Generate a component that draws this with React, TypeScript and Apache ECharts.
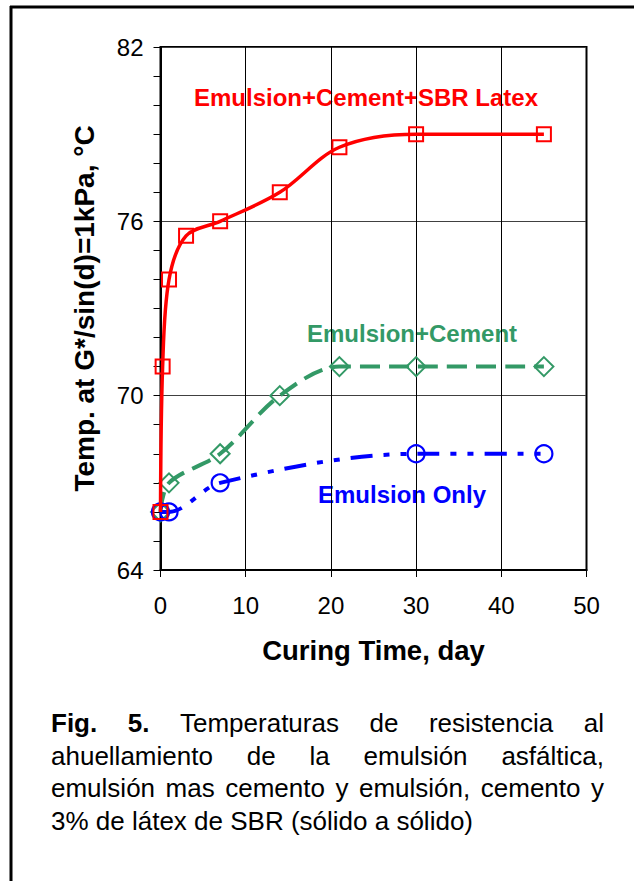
import React, { useEffect, useRef } from "react";
import * as echarts from "echarts";

// ---- data ----
const sbrDays = [0, 0.25, 1, 3, 7, 14, 21, 30, 45];
const sbrTemp = [66.0, 71.0, 74.0, 75.5, 76.0, 77.0, 78.55, 79.0, 79.0];
const cementDays = [0, 1, 7, 14, 21, 30, 45];
const cementTemp = [66.0, 67.0, 68.0, 70.0, 71.0, 71.0, 71.0];
const emulsionDays = [0, 1, 7, 30, 45];
const emulsionTemp = [66.0, 66.0, 67.0, 68.0, 68.0];

const seriesNames = ["Emulsion+Cement+SBR Latex", "Emulsion+Cement", "Emulsion Only"];
const yAxisTitle = "Temp. at G*/sin(d)=1kPa, °C";
const xAxisTitle = "Curing Time, day";

const captionLines = [
  [["Fig.", true], ["5.", true], ["Temperaturas", false], ["de", false], ["resistencia", false], ["al", false]],
  [["ahuellamiento", false], ["de", false], ["la", false], ["emulsión", false], ["asfáltica,", false]],
  [["emulsión", false], ["mas", false], ["cemento", false], ["y", false], ["emulsión,", false], ["cemento", false], ["y", false]],
];
const captionLast = "3% de látex de SBR (sólido a sólido)";

const RED = "#FF0000";
const GREEN = "#339966";
const BLUE = "#0000FF";
const FONT = '"Liberation Sans", Arial, sans-serif';

function pairs(xs: number[], ys: number[]) {
  return xs.map((x, i) => [x, ys[i]]);
}

export default function App() {
  const ref = useRef<HTMLDivElement>(null);
  useEffect(() => {
    if (!ref.current) return;
    const chart = echarts.init(ref.current, null, { renderer: "svg" });

    const capSize = 26;
    const capLeft = 51;
    const capRight = 604;
    const baselines = [732, 765, 797, 830];
    const ctx = document.createElement("canvas").getContext("2d")!;
    const measure = (t: string, bold: boolean) => {
      ctx.font = `${bold ? "bold " : ""}${capSize}px ${FONT}`;
      return ctx.measureText(t).width;
    };
    const captionGraphics: any[] = [];
    captionLines.forEach((words, li) => {
      const widths = words.map(([w, b]) => measure(w as string, b as boolean));
      const total = widths.reduce((a, b) => a + b, 0);
      const gap = (capRight - capLeft - total) / (words.length - 1);
      let x = capLeft;
      words.forEach(([w, b], i) => {
        captionGraphics.push({
          type: "text",
          x,
          y: baselines[li] - capSize * 0.35,
          style: {
            text: w,
            font: `${b ? "bold " : ""}${capSize}px ${FONT}`,
            fill: "#000",
            verticalAlign: "middle",
            align: "left",
          },
        });
        x += widths[i] + gap;
      });
    });
    captionGraphics.push({
      type: "text",
      x: capLeft,
      y: baselines[3] - capSize * 0.35,
      style: {
        text: captionLast,
        font: `${capSize}px ${FONT}`,
        fill: "#000",
        verticalAlign: "middle",
        align: "left",
      },
    });

    const option: any = {
      animation: false,
      backgroundColor: "#fff",
      grid: {
        left: 160.5,
        right: 47.5,
        top: 47,
        bottom: 311,
        show: true,
        borderColor: "#000",
        borderWidth: 2,
        backgroundColor: "transparent",
      },
      xAxis: {
        type: "value",
        min: 0,
        max: 50,
        interval: 10,
        name: xAxisTitle,
        nameLocation: "middle",
        nameGap: 66,
        nameTextStyle: { fontFamily: FONT, fontWeight: "bold", fontSize: 27.5, color: "#000" },
        axisLine: { show: true, lineStyle: { color: "#000", width: 2 } },
        axisTick: { show: true, inside: false, length: 7, lineStyle: { color: "#000", width: 1 } },
        axisLabel: { fontFamily: FONT, fontSize: 24, color: "#000", margin: 23 },
        splitLine: { show: true, lineStyle: { color: "#000", width: 1 } },
      },
      yAxis: {
        type: "value",
        min: 64,
        max: 82,
        interval: 6,
        name: yAxisTitle,
        nameLocation: "middle",
        nameRotate: 90,
        nameGap: 62,
        nameTextStyle: { fontFamily: FONT, fontWeight: "bold", fontSize: 28, color: "#000" },
        axisLine: { show: true, lineStyle: { color: "#000", width: 2 } },
        axisTick: { show: true, inside: false, length: 7, lineStyle: { color: "#000", width: 1 } },
        minorTick: { show: true, splitNumber: 6, length: 7, lineStyle: { color: "#000", width: 1 } },
        axisLabel: { fontFamily: FONT, fontSize: 24, color: "#000", margin: 17 },
        splitLine: { show: true, lineStyle: { color: "#404040", width: 1 } },
      },
      series: [
        {
          name: seriesNames[1],
          type: "line",
          data: pairs(cementDays, cementTemp),
          smooth: 0.33,
          symbol: "diamond",
          symbolSize: 19,
          lineStyle: { color: GREEN, width: 4, type: [20, 9] },
          itemStyle: { color: "rgba(0,0,0,0)", borderColor: GREEN, borderWidth: 2 },
          z: 2,
        },
        {
          name: seriesNames[2],
          type: "line",
          data: pairs(emulsionDays, emulsionTemp),
          smooth: 0.33,
          symbol: "circle",
          symbolSize: 17,
          lineStyle: { color: BLUE, width: 4, type: [22, 11, 6, 11, 6, 11] },
          itemStyle: { color: "rgba(0,0,0,0)", borderColor: BLUE, borderWidth: 2.2 },
          z: 3,
        },
        {
          name: seriesNames[0],
          type: "line",
          data: pairs(sbrDays, sbrTemp),
          smooth: 0.33,
          symbol: "rect",
          symbolSize: 14,
          lineStyle: { color: RED, width: 3.5 },
          itemStyle: { color: "rgba(0,0,0,0)", borderColor: RED, borderWidth: 2 },
          z: 4,
        },
      ],
      graphic: [
        { type: "line", shape: { x1: 10, y1: 7, x2: 634, y2: 7 }, style: { stroke: "#000", lineWidth: 3 } },
        { type: "line", shape: { x1: 11, y1: 6, x2: 11, y2: 881 }, style: { stroke: "#000", lineWidth: 3 } },
        {
          type: "text", x: 366, y: 97,
          style: { text: seriesNames[0], font: `bold 24px ${FONT}`, fill: RED, align: "center", verticalAlign: "middle" },
        },
        {
          type: "text", x: 412, y: 333,
          style: { text: seriesNames[1], font: `bold 24px ${FONT}`, fill: GREEN, align: "center", verticalAlign: "middle" },
        },
        {
          type: "text", x: 402, y: 494,
          style: { text: seriesNames[2], font: `bold 24px ${FONT}`, fill: BLUE, align: "center", verticalAlign: "middle" },
        },
        ...captionGraphics,
      ],
    };
    chart.setOption(option);
    return () => chart.dispose();
  }, []);

  return (
    <div
      ref={ref}
      style={{ position: "fixed", left: 0, top: 0, width: 634, height: 881, background: "#fff" }}
    />
  );
}
